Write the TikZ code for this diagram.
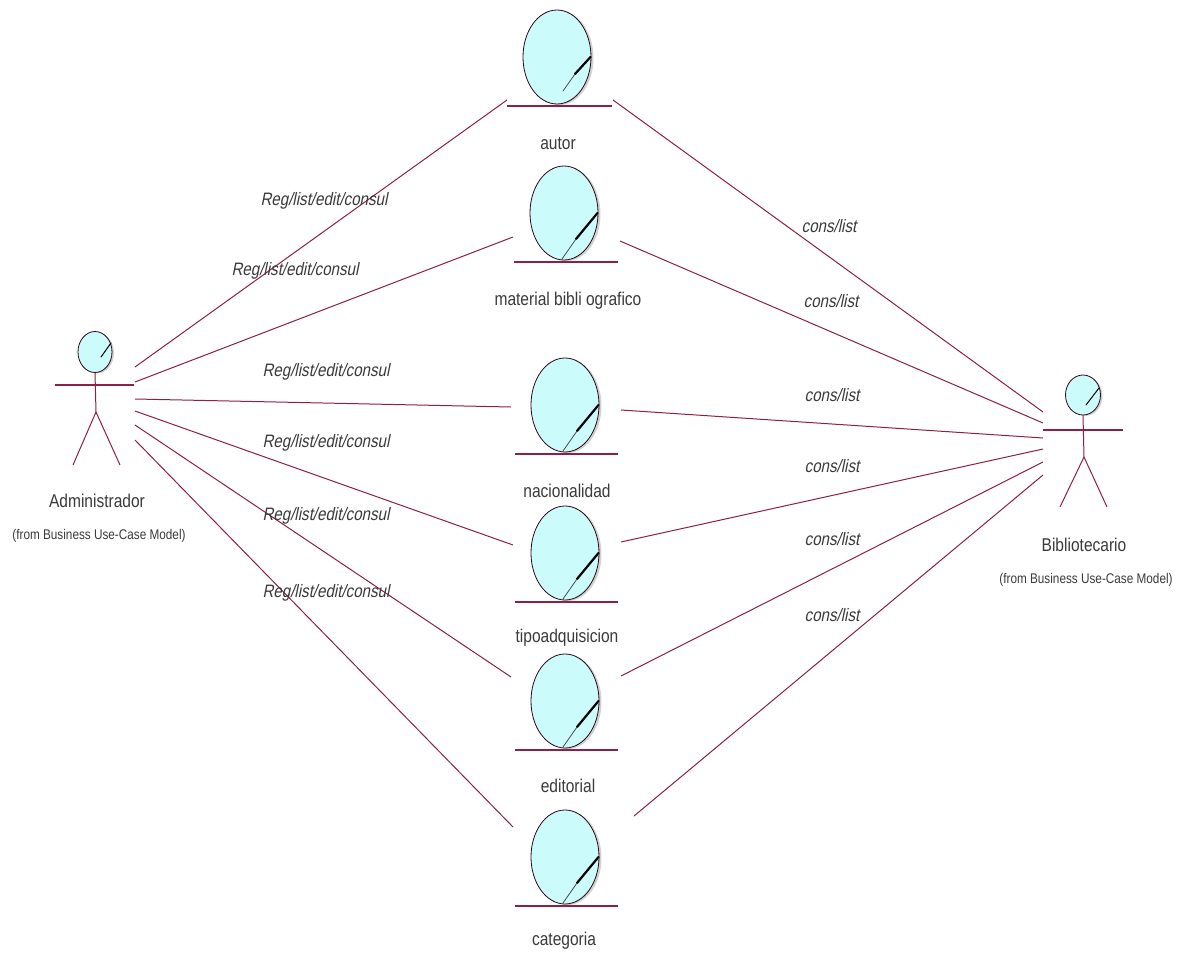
\documentclass[tikz,border=0pt]{standalone}
\usepackage{fontspec}
\setmainfont{Liberation Sans}
\newfontfamily\narrowfont{Liberation Sans}[FakeStretch=0.84]
\newfontfamily\narrowital{Liberation Sans}[FakeStretch=0.84,FakeSlant=0.2]
\usetikzlibrary{shapes.geometric,calc}
\definecolor{wine}{HTML}{8E1F45}
\definecolor{cyanfill}{HTML}{CCFBFC}
\definecolor{inkk}{HTML}{3A3A3A}
\tikzset{
 assoc/.style={draw=wine,line width=1pt},
 head/.style={ellipse,draw=black!70!wine,fill=cyanfill,line width=0.8pt,inner sep=0pt},
 shade/.style={ellipse,fill=black!18,inner sep=0pt},
 bar/.style={draw=wine,line width=1.1pt},
 slash/.style={draw=black,line cap=round},
 lbl/.style={inner sep=0pt,text=inkk,font=\narrowfont\fontsize{18.5}{20}\selectfont},
 small/.style={inner sep=0pt,text=inkk,font=\narrowfont\fontsize{14}{16}\selectfont},
 rel/.style={inner sep=0pt,text=inkk,font=\narrowital\fontsize{18}{20}\selectfont},
}
% name, cx, cy, bar right extent, thick-end offset, thin-end offset
\newcommand{\entity}[6]{%
 \node[shade,minimum width=68pt,minimum height=94pt] at (#2+2.5,#3+1) {};
 \node[head,minimum width=68pt,minimum height=94pt] (#1) at (#2,#3) {};
 \draw[slash,line width=2.2pt] ($(#1.center)+(33.5,0)$) -- ($(#1.center)+#5$);
 \draw[slash,line width=0.8pt,draw=black!70] ($(#1.center)+#5$) -- ($(#1.center)+#6$);
 \draw[bar] ($(#1.center)+(-50,49)$) coordinate (#1bl) -- ($(#1.center)+(#4,49)$) coordinate (#1br);
}
\begin{document}
\begin{tikzpicture}[x=1pt,y=-1pt]
\useasboundingbox (0,0) rectangle (1184,953);
% entities
\entity{autor}{557}{57}{55}{(18,17)}{(6,34)}
\entity{material}{564}{213}{54}{(12,26)}{(-2,46)}
\entity{nacion}{565}{405}{53}{(12,26)}{(-2,46)}
\entity{tipo}{565}{553}{53}{(12,26)}{(-2,46)}
\entity{edit}{565}{701}{53}{(12,26)}{(-2,46)}
\entity{categ}{565}{857}{53}{(12,26)}{(-2,46)}
\node[lbl] (autorT) at (558,144) {autor};
\node[lbl] (materialT) at (568,301) {material bibli ografico};
\node[lbl] (nacionT) at (567,491) {nacionalidad};
\node[lbl] (tipoT) at (567,638) {tipoadquisicion};
\node[lbl] (editT) at (568,786) {editorial};
\node[lbl] (categT) at (564,941) {categoria};
% left actor
\node[shade,minimum width=34pt,minimum height=41pt] at (97,353) {};
\node[head,minimum width=34pt,minimum height=41pt] (admin) at (95,352) {};
\draw[slash,line width=1pt] (111,343) -- (101,357);
\coordinate (adminBL) at (55,385); \coordinate (adminBR) at (134,385);
\coordinate (adminHip) at (96,412); \coordinate (adminLL) at (73,465); \coordinate (adminLR) at (120,465);
\draw[bar] (adminBL) -- (adminBR);
\draw[assoc] (admin.south) -- (adminHip) -- (adminLL);
\draw[assoc] (adminHip) -- (adminLR);
\node[lbl] (adminT) at (97,501) {Administrador};
\node[small] (adminF) at (99,536) {(from Business Use-Case Model)};
% right actor
\node[shade,minimum width=35pt,minimum height=40pt] at (1085,396) {};
\node[head,minimum width=35pt,minimum height=40pt] (bibl) at (1083,395) {};
\draw[slash,line width=1pt] (1099,388) -- (1086,405);
\coordinate (biblBL) at (1043,430); \coordinate (biblBR) at (1123,430);
\coordinate (biblHip) at (1084,457); \coordinate (biblLL) at (1060,507); \coordinate (biblLR) at (1107,507);
\draw[bar] (biblBL) -- (biblBR);
\draw[assoc] (bibl.south) -- (biblHip) -- (biblLL);
\draw[assoc] (biblHip) -- (biblLR);
\node[lbl] (biblT) at (1084,545) {Bibliotecario};
\node[small] (biblF) at (1086,580) {(from Business Use-Case Model)};
% left connector ends
\coordinate (a1) at (135,367); \coordinate (a2) at (135,382); \coordinate (a3) at (135,399);
\coordinate (a4) at (135,411); \coordinate (a5) at (135,425); \coordinate (a6) at (135,440);
\coordinate (e1) at (507,100); \coordinate (e2) at (513,237); \coordinate (e3) at (511,407);
\coordinate (e4) at (513,545); \coordinate (e5) at (511,677); \coordinate (e6) at (513,827);
\foreach \i in {1,...,6} {\draw[assoc] (a\i) -- (e\i);}
% right connector ends
\coordinate (b1) at (1043,412); \coordinate (b2) at (1043,423); \coordinate (b3) at (1043,438);
\coordinate (b4) at (1043,449); \coordinate (b5) at (1043,462); \coordinate (b6) at (1043,475);
\coordinate (f1) at (613,100); \coordinate (f2) at (620,241); \coordinate (f3) at (621,410);
\coordinate (f4) at (621,542); \coordinate (f5) at (621,676); \coordinate (f6) at (634,816);
\foreach \i in {1,...,6} {\draw[assoc] (f\i) -- (b\i);}
% labels
\node[rel] (l1) at (324,201) {Reg/list/edit/consul};
\node[rel] (l2) at (295,271) {Reg/list/edit/consul};
\node[rel] (l3) at (326,372) {Reg/list/edit/consul};
\node[rel] (l4) at (326,443) {Reg/list/edit/consul};
\node[rel] (l5) at (326,516) {Reg/list/edit/consul};
\node[rel] (l6) at (326,593) {Reg/list/edit/consul};
\node[rel] (r1) at (829,226) {cons/list};
\node[rel] (r2) at (831,301) {cons/list};
\node[rel] (r3) at (832,395) {cons/list};
\node[rel] (r4) at (832,466) {cons/list};
\node[rel] (r5) at (832,539) {cons/list};
\node[rel] (r6) at (832,615) {cons/list};
\end{tikzpicture}
\end{document}
